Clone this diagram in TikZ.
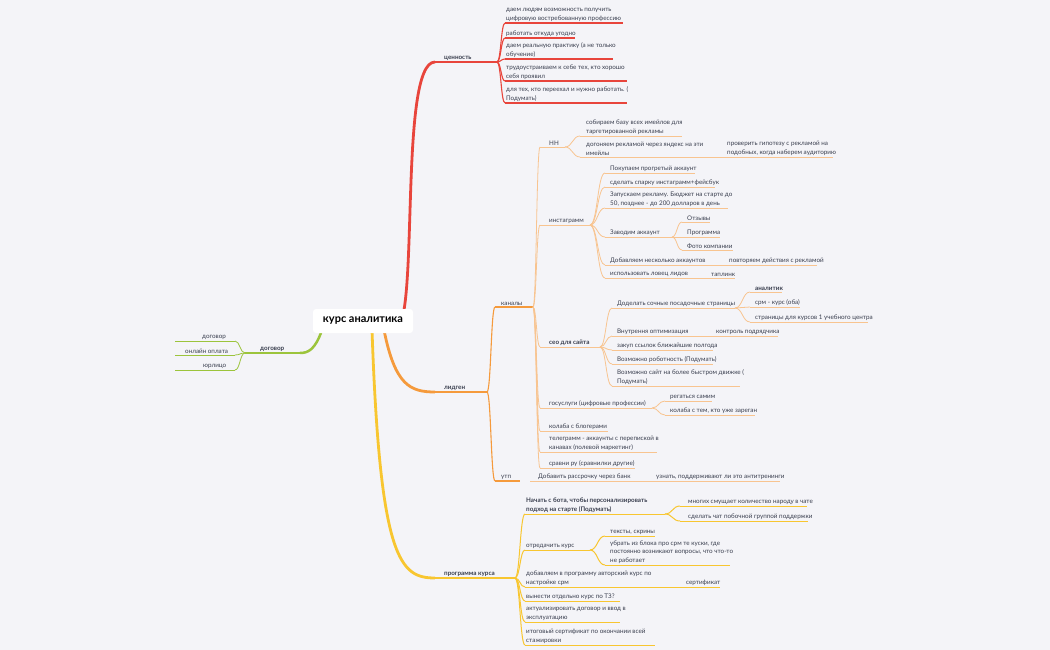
\documentclass[tikz,border=0pt]{standalone}
\usepackage{fontspec}
\usetikzlibrary{calc}
\setmainfont{Lato}
\begin{document}
\definecolor{bg}{HTML}{F4F4F8}
\definecolor{cred}{HTML}{E8453C}
\definecolor{cora}{HTML}{F59A3C}
\definecolor{corl}{HTML}{F8C490}
\definecolor{cyel}{HTML}{F8C630}
\definecolor{cgrn}{HTML}{9CC43C}
\definecolor{txt}{HTML}{3A3F4F}
\newcommand\leaf[6]{%
  \coordinate (#1s) at (#2,#4); \coordinate (#1e) at (#3,#4);
  \node[lbl, anchor=south west] (#1) at (#2+1,#4-1.5) {#6};
  \draw[#5] (#1s) -- (#1e);}
\newcommand\cn[3]{\draw[#3] let \p1=(#1e), \p2=(#2s) in (\p1) .. controls ({0.5*\x1+0.5*\x2},\y1) and ({0.5*\x1+0.5*\x2},\y2) .. (\p2);}
\newcommand\cnl[3]{\draw[#3] let \p1=(#1s), \p2=(#2e) in (\p1) .. controls ({0.5*\x1+0.5*\x2},\y1) and ({0.5*\x1+0.5*\x2},\y2) .. (\p2);}
\begin{tikzpicture}[x=1pt,y=-1pt,
  lbl/.style={inner sep=0pt, align=left, text=txt, font=\fontsize{6.3}{8.3}\selectfont},
  r/.style={cred, line width=1.1pt},
  o1/.style={cora, line width=1.1pt},
  o/.style={corl, line width=0.8pt},
  yl/.style={cyel, line width=1pt},
  g/.style={cgrn, line width=0.8pt},
  root/.style={fill=white, rounded corners=3pt, minimum width=100pt, minimum height=24pt, inner sep=0pt, font=\fontsize{11}{12}\selectfont\bfseries, text=black}]
\fill[bg] (0,0) rectangle (1050,650);
\useasboundingbox (0,0) rectangle (1050,650);
% main branches
\leaf{val}{435}{497}{62}{cred, line width=2pt}{\hspace*{8pt}\textbf{ценность}}
\leaf{lid}{435}{487}{392}{cora, line width=2pt}{\hspace*{8pt}\textbf{лидген}}
\leaf{prog}{435}{515}{578}{cyel, line width=2pt}{\hspace*{8pt}\textbf{программа курса}}
\leaf{dog}{245}{300}{353}{cgrn, line width=2pt}{\hspace*{14pt}\textbf{договор}}
\draw[cred, line width=2.8pt] (395,330) .. controls (420,328) and (398,62) .. (vals);
\draw[cora, line width=2.8pt] (384,330) .. controls (395,385) and (410,392) .. (lids);
\draw[cyel, line width=2.8pt] (372,330) .. controls (380,560) and (400,578) .. (progs);
\draw[cgrn, line width=2.5pt] (322,330) .. controls (315,350) and (308,353) .. (doge);
\node[root] (root) at (363,321) {курс аналитика};
% value
\leaf{v1}{505}{623}{23}{r}{даем людям возможность получить\\цифровую востребованную профессию}
\leaf{v2}{505}{575}{38}{r}{работать откуда угодно}
\leaf{v3}{505}{613}{59}{r}{даем реальную практику (а не только\\обучение)}
\leaf{v4}{505}{627}{81}{r}{трудоустраиваем к себе тех, кто хорошо\\себя проявил}
\leaf{v5}{505}{627}{103}{r}{для тех, кто переехал и нужно работать. (\\Подумать)}
\foreach \c in {v1,v2,v3,v4,v5} {\cn{val}{\c}{r}}
% dogovor
\leaf{d1}{175}{235}{341}{g}{\hspace*{26pt}договор}
\leaf{d2}{175}{235}{355}{g}{\hspace*{9pt}онлайн оплата}
\leaf{d3}{175}{235}{370}{g}{\hspace*{27pt}юрлицо}
\foreach \c in {d1,d2,d3} {\cnl{dog}{\c}{g}}
% lidgen
\leaf{kan}{495}{533}{307}{o1}{\hspace*{5pt}каналы}
\leaf{utp}{495}{520}{481}{o1}{\hspace*{5pt}утп}
\cn{lid}{kan}{o1}\cn{lid}{utp}{o1}
\leaf{hh}{540}{565}{147}{o}{\hspace*{8pt}HH}
\leaf{ins}{540}{590}{225}{o}{\hspace*{8pt}инстаграмм}
\leaf{seo}{540}{600}{347}{o}{\hspace*{8pt}\textbf{сео для сайта}}
\leaf{gos}{540}{652}{408}{o}{\hspace*{8pt}госуслуги (цифровые профессии)}
\leaf{kol}{540}{608}{431}{o}{\hspace*{8pt}колаба с блогерами}
\leaf{tg}{540}{657}{452}{o}{\hspace*{8pt}телеграмм - аккаунты с перепиской в\\\hspace*{8pt}канавах (полевой маркетинг)}
\leaf{sr}{540}{635}{468}{o}{\hspace*{8pt}сравни ру (сравнилки другие)}
\foreach \c in {hh,ins,seo,gos,kol,tg,sr} {\cn{kan}{\c}{o}}
\leaf{h1}{580}{682}{136}{o}{\hspace*{5pt}собираем базу всех имейлов для\\\hspace*{5pt}таргетированной рекламы}
\leaf{h2}{580}{720}{157}{o}{\hspace*{5pt}догоняем рекламой через яндекс на эти\\\hspace*{5pt}имейлы}
\leaf{h3}{720}{833}{157}{o}{\hspace*{6pt}проверить гипотезу с рекламой на\\\hspace*{6pt}подобных, когда наберем аудиторию}
\cn{hh}{h1}{o}\cn{hh}{h2}{o}
\leaf{i1}{605}{695}{173}{o}{\hspace*{4pt}Покупаем прогретый аккаунт}
\leaf{i2}{605}{715}{187}{o}{\hspace*{4pt}сделать спарку инстаграмм+фейсбук}
\leaf{i3}{605}{728}{208}{o}{\hspace*{4pt}Запускаем рекламу. Бюджет на старте до\\\hspace*{4pt}50, позднее - до 200 долларов в день}
\leaf{i4}{605}{672}{237}{o}{\hspace*{4pt}Заводим аккаунт}
\leaf{i5}{605}{722}{265}{o}{\hspace*{4pt}Добавляем несколько аккаунтов}
\leaf{i6}{605}{700}{278}{o}{\hspace*{4pt}использовать ловец лидов}
\foreach \c in {i1,i2,i3,i4,i5,i6} {\cn{ins}{\c}{o}}
\leaf{a1}{682}{710}{222}{o}{\hspace*{4pt}Отзывы}
\leaf{a2}{682}{720}{237}{o}{\hspace*{4pt}Программа}
\leaf{a3}{682}{733}{250}{o}{\hspace*{4pt}Фото компании}
\foreach \c in {a1,a2,a3} {\cn{i4}{\c}{o}}
\leaf{i7}{722}{817}{265}{o}{\hspace*{6pt}повторяем действия с рекламой}
\leaf{i8}{700}{735}{278}{o}{\hspace*{10pt}таплинк}
\leaf{s1}{612}{735}{308}{o}{\hspace*{4pt}Доделать сочные посадочные страницы}
\leaf{s2}{612}{710}{336}{o}{\hspace*{4pt}Внутрення оптимизация}
\leaf{s3}{612}{713}{350}{o}{\hspace*{4pt}закуп ссылок ближайшие полгода}
\leaf{s4}{612}{713}{364}{o}{\hspace*{4pt}Возможно роботность (Подумать)}
\leaf{s5}{612}{740}{386}{o}{\hspace*{4pt}Возможно сайт на более быстром движке (\\\hspace*{4pt}Подумать)}
\foreach \c in {s1,s2,s3,s4,s5} {\cn{seo}{\c}{o}}
\leaf{p1}{750}{782}{292}{o}{\hspace*{4pt}\textbf{аналитик}}
\leaf{p2}{750}{800}{307}{o}{\hspace*{4pt}срм - курс (оба)}
\leaf{p3}{750}{868}{322}{o}{\hspace*{4pt}страницы для курсов 1 учебного центра}
\foreach \c in {p1,p2,p3} {\cn{s1}{\c}{o}}
\leaf{s6}{710}{778}{336}{o}{\hspace*{5pt}контроль подрядчика}
\leaf{g1}{665}{712}{401}{o}{\hspace*{4pt}регаться самим}
\leaf{g2}{665}{755}{415}{o}{\hspace*{4pt}колаба с тем, кто уже зареган}
\cn{gos}{g1}{o}\cn{gos}{g2}{o}
\leaf{u1}{530}{650}{481}{o}{\hspace*{7pt}Добавить рассрочку через банк}
\leaf{u2}{650}{780}{481}{o}{\hspace*{5pt}узнать, поддерживают ли это антитренинги}
% program
\leaf{q1}{525}{665}{514}{yl}{\textbf{Начать с бота, чтобы персонализировать}\\\textbf{подход на старте (Подумать)}}
\leaf{q2}{525}{590}{550}{yl}{отредачить курс}
\leaf{q3}{525}{660}{587}{yl}{добавляем в программу авторский курс по\\настройке срм}
\leaf{q4}{525}{620}{601}{yl}{вынести отдельно курс по ТЗ?}
\leaf{q5}{525}{620}{622}{yl}{актуализировать договор и ввод в\\эксплуатацию}
\leaf{q6}{525}{655}{645}{yl}{итоговый сертификат по окончании всей\\стажировки}
\foreach \c in {q1,q2,q3,q4,q5,q6} {\cn{prog}{\c}{yl}}
\leaf{b1}{680}{807}{506}{yl}{\hspace*{7pt}многих смущает количество народу в чате}
\leaf{b2}{680}{808}{521}{yl}{\hspace*{7pt}сделать чат побочной группой поддержки}
\cn{q1}{b1}{yl}\cn{q1}{b2}{yl}
\leaf{c1}{605}{655}{536}{yl}{\hspace*{4pt}тексты, скрины}
\leaf{c2}{605}{730}{565}{yl}{\hspace*{4pt}убрать из блока про срм те куски, где\\\hspace*{4pt}постоянно возникают вопросы, что что-то\\\hspace*{4pt}не работает}
\cn{q2}{c1}{yl}\cn{q2}{c2}{yl}
\leaf{c3}{660}{720}{587}{yl}{\hspace*{25pt}сертификат}
\end{tikzpicture}
\end{document}
